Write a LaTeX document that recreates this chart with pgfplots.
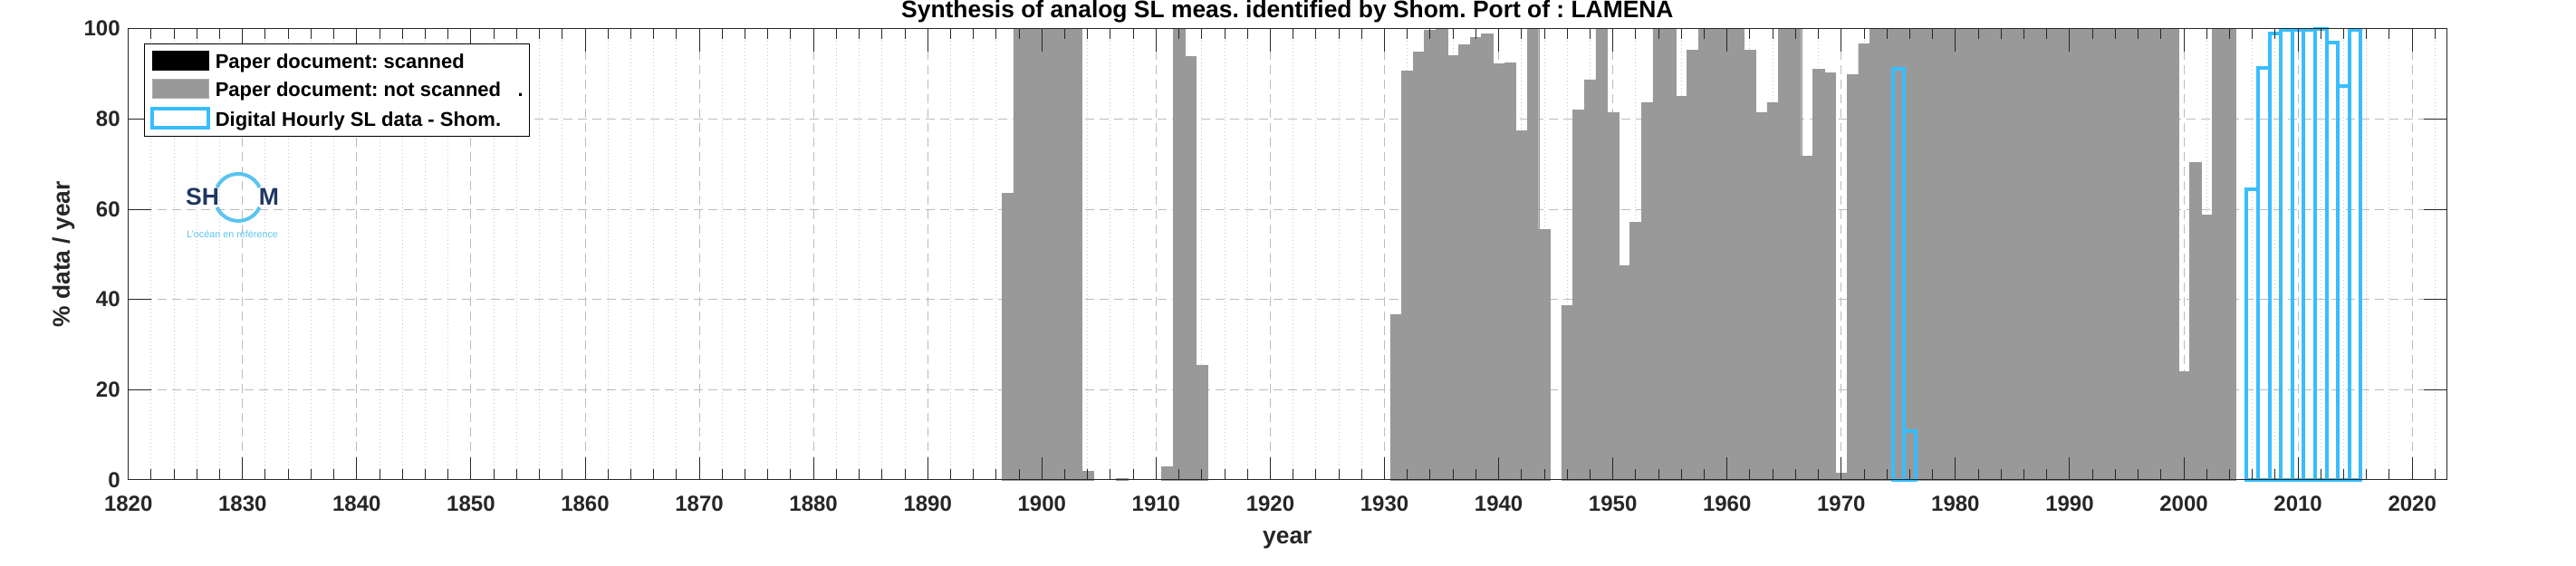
\documentclass[border=0pt]{standalone}
\usepackage{pgfplots}
\pgfplotsset{compat=1.18}
\usepackage{pgfplotstable}
\usepackage{fontspec}
\setmainfont{Liberation Sans}
\frenchspacing
\definecolor{axgray}{RGB}{38,38,38}
\definecolor{bargray}{RGB}{153,153,153}
\definecolor{shomblue}{RGB}{56,189,255}
\definecolor{gridgray}{RGB}{188,188,188}
\definecolor{navy}{RGB}{30,55,100}
\definecolor{logoblue}{RGB}{90,196,238}

\pgfplotstableread{
year val
1897 63.6
1898 100
1899 100
1900 100
1901 100
1902 100
1903 100
1904 2.0
1907 0.3
1911 2.9
1912 100
1913 93.8
1914 25.4
1931 36.7
1932 90.6
1933 94.9
1934 99.7
1935 100
1936 94.1
1937 96.5
1938 98.1
1939 98.8
1940 92.2
1941 92.5
1942 77.4
1943 100
1944 55.5
1946 38.7
1947 82.0
1948 88.7
1949 100
1950 81.5
1951 47.5
1952 57.1
1953 83.7
1954 100
1955 100
1956 85.0
1957 95.2
1958 100
1959 100
1960 100
1961 100
1962 95.2
1963 81.5
1964 83.7
1965 100
1966 100
1967 71.8
1968 91.1
1969 90.2
1970 1.6
1971 89.8
1972 96.6
1973 100
1974 100
1975 100
1976 100
1977 100
1978 100
1979 100
1980 100
1981 100
1982 100
1983 100
1984 100
1985 100
1986 100
1987 100
1988 100
1989 100
1990 100
1991 100
1992 100
1993 100
1994 100
1995 100
1996 100
1997 100
1998 100
1999 100
2000 24.0
2001 70.4
2002 58.7
2003 100
2004 100
}\graydata

\pgfplotstableread{
year val
1975 91.1
1976 10.9
2006 64.5
2007 91.4
2008 99.0
2009 99.8
2010 99.8
2011 99.8
2012 100
2013 96.9
2014 87.2
2015 99.7
}\bluedata

\begin{document}
\begin{tikzpicture}
\path[use as bounding box] (0,0) rectangle (1422pt,312.5pt);
\pgfplotsset{myaxis/.style={
  at={(70.85pt,47.5pt)}, anchor=south west, scale only axis,
  width=1279.65pt, height=249.15pt,
  xmin=1820, xmax=2023, ymin=0, ymax=100,
  xtick={1820,1830,...,2020},
  minor xtick={1822,1824,1826,1828,1832,1834,1836,1838,1842,1844,1846,1848,1852,1854,1856,1858,1862,1864,1866,1868,1872,1874,1876,1878,1882,1884,1886,1888,1892,1894,1896,1898,1902,1904,1906,1908,1912,1914,1916,1918,1922,1924,1926,1928,1932,1934,1936,1938,1942,1944,1946,1948,1952,1954,1956,1958,1962,1964,1966,1968,1972,1974,1976,1978,1982,1984,1986,1988,1992,1994,1996,1998,2002,2004,2006,2008,2012,2014,2016,2018,2022},
  ytick={0,20,40,60,80,100},
}}
% layer 1: grid and bars
\begin{axis}[myaxis, clip=false,
  axis line style={draw=none},
  major tick length=0pt, minor tick length=0pt,
  xticklabels={}, yticklabels={},
  xmajorgrids, xminorgrids, ymajorgrids,
  major grid style={gridgray, line width=0.5pt, dash pattern=on 5pt off 3pt},
  minor grid style={gridgray!85, line width=0.5pt, dash pattern=on 0.5pt off 1.5pt},
]
\addplot[ybar, bar width=1, bar shift=0pt, fill=bargray, draw=bargray, line width=0.2pt]
  table[x=year, y=val]{\graydata};
\addplot[ybar, bar width=1, bar shift=0pt, draw=shomblue, line width=2pt, fill=none]
  table[x=year, y=val]{\bluedata};
\end{axis}
% layer 2: frame, ticks, labels, legend
\begin{axis}[myaxis, clip=false,
  axis line style={axgray, line width=0.5pt},
  tick align=inside,
  major tick length=12.5pt, minor tick length=5.8pt,
  tick style={axgray, line width=0.5pt},
  /pgf/number format/assume math mode=true,
  /pgf/number format/1000 sep={},
  tick label style={font=\bfseries\fontsize{12}{14}\selectfont, color=axgray},
  xticklabel style={yshift=-5.5pt},
  yticklabel style={xshift=-1pt},
  xlabel={year},
  xlabel style={at={(axis description cs:0.5,-0.1336)}, anchor=center, font=\bfseries\fontsize{13.2}{15}\selectfont, color=axgray},
  ylabel={\% data / year},
  ylabel style={at={(axis description cs:-0.02802,0.5)}, anchor=center, font=\bfseries\fontsize{13.2}{15}\selectfont, color=axgray},
  legend cell align=left,
  legend style={at={(axis description cs:0,1)}, anchor=north west, xshift=8.8pt, yshift=-8.3pt,
    draw=black, line width=0.5pt, fill=white,
    inner xsep=3.2pt, inner ysep=3.5pt, row sep=4.75pt, column sep=2.8pt,
    font=\bfseries\fontsize{11}{13}\selectfont,
    nodes={inner sep=0pt, text height=9.65pt, text depth=0.85pt}},
]
\addlegendimage{legend image code/.code={\draw[fill=black, draw=black, line width=0.4pt] (0pt,-5.25pt) rectangle (31pt,5.25pt);}}
\addlegendentry{Paper document: scanned}
\addlegendimage{legend image code/.code={\draw[fill=bargray, draw=bargray!80, line width=0.4pt] (0pt,-5.25pt) rectangle (31pt,5.25pt);}}
\addlegendentry{Paper document: not scanned\ \ \ .}
\addlegendimage{legend image code/.code={\draw[fill=white, draw=shomblue, line width=2pt] (0pt,-5.25pt) rectangle (31pt,5.25pt);}}
\addlegendentry{Digital Hourly SL data - Shom.}
% title
\node[anchor=base, font=\bfseries\fontsize{13.2}{15}\selectfont, color=black, inner sep=0pt]
  at (axis description cs:0.5,1.0235) {Synthesis of analog SL meas. identified by Shom. Port of : LAMENA};
% logo
\node[font=\bfseries\fontsize{13.3}{15}\selectfont, color=navy] at (axis description cs:0.03196,0.6271) {SH};
\node[font=\bfseries\fontsize{13.3}{15}\selectfont, color=navy] at (axis description cs:0.0607,0.6271) {M};
\draw[logoblue, line width=2pt] (axis description cs:0.04741,0.6262) ++(25:13pt) arc (25:155:13pt);
\draw[logoblue, line width=2pt] (axis description cs:0.04741,0.6262) ++(205:13pt) arc (205:335:13pt);
\node[font=\fontsize{5.4}{6}\selectfont, color=logoblue] at (axis description cs:0.04486,0.5439) {L'océan en référence};
\end{axis}
\end{tikzpicture}
\end{document}
